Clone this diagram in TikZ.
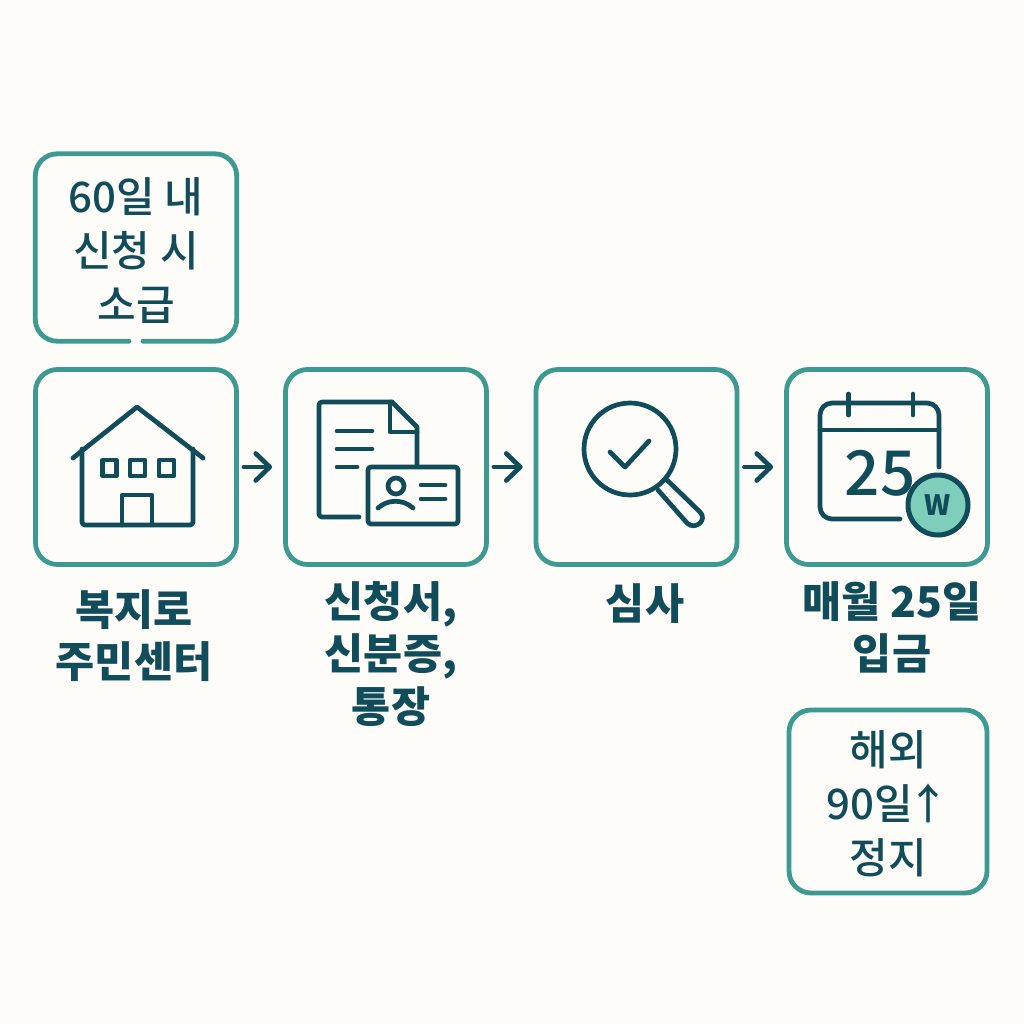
\documentclass[tikz,border=0pt]{standalone}
\usepackage{fontspec}
\usetikzlibrary{arrows.meta}
\setmainfont{Noto Sans CJK KR}
\newfontfamily\krmed{Noto Sans CJK KR Medium}
\newfontfamily\krblack{Noto Sans CJK KR Black}
\definecolor{bgc}{HTML}{FDFCF8}
\definecolor{tealc}{HTML}{3C9A90}
\definecolor{darkc}{HTML}{114C5A}
\definecolor{mintc}{HTML}{7FCDBB}
\tikzset{
  x=1pt,y=-1pt,
  boxline/.style={draw=tealc,line width=4.8pt,rounded corners=22pt,line cap=round},
  stepbox/.style={boxline,minimum width=201pt,minimum height=195pt,inner sep=0pt,anchor=center},
  notebox/.style={align=center,text=darkc,font=\fontsize{42}{54}\krmed\selectfont,inner sep=0pt},
  caption/.style={align=center,text=darkc,font=\fontsize{42.5}{52.5}\krblack\selectfont,inner sep=0pt,anchor=north},
  icon/.style={draw=darkc,line width=4.7pt,line cap=round,line join=round},
  flow/.style={draw=darkc,line width=4.7pt,line cap=round,-{Straight Barb[length=14pt,width=27pt,line width=4.7pt,round]}},
}
\begin{document}
\begin{tikzpicture}
\path[fill=bgc] (0,0) rectangle (1024,1024);
\useasboundingbox (0,0) rectangle (1024,1024);

% boxes
\node[stepbox] (home) at (136,467) {};
\node[stepbox] (docs) at (386,467) {};
\node[stepbox] (check) at (636.5,467) {};
\node[stepbox] (pay) at (887,467) {};
\node[boxline,minimum width=198pt,minimum height=183pt,inner sep=0pt] (stop) at (888,801.5) {};
\node[notebox] (stoptext) at (888,803.5) {해외\\ 90일\kern-5pt↑\\정지};

% top note with a gap in its lower edge
\node[minimum width=201pt,minimum height=187pt,inner sep=0pt] (back) at (136,247.5) {};
\node[notebox] (backtext) at (136,250.5) {60일 내\\신청 시\\소급};
\draw[boxline] ([xshift=-7pt]back.south) -| (back.north west) -| (back.south east) -- ([xshift=7pt]back.south);

% connectors
\draw[flow] ([xshift=5pt]home.east) -- ([xshift=-11pt]docs.west);
\draw[flow] ([xshift=5pt]docs.east) -- ([xshift=-11pt]check.west);
\draw[flow] ([xshift=5pt]check.east) -- ([xshift=-11pt]pay.west);

% captions
\node[caption] (c1) at (134,589) {복지로\\주민센터};
\node[caption] (c2) at (391,581) {신청서,\\신분증,\\통장};
\node[caption] (c3) at (645,583) {심사};
\node[caption] (c4) at (892,581) {매월 25일\\입금};

% house icon
\draw[icon] (73,458) -- (137,407) -- (203,458);
\draw[icon,rounded corners=3pt] (82,449) -- (82,525) -- (193,525) -- (193,449);
\draw[icon] (122,525) -- (122,495) -- (152,495) -- (152,525);
\draw[icon] (102.5,460) rectangle (116.5,476);
\draw[icon] (130,460) rectangle (145,476);
\draw[icon] (159,460) rectangle (174,476);

% document and card icon
\draw[icon,rounded corners=3pt] (359,517) -- (319,517) -- (319,402) -- (392,402);
\draw[icon] (392,402) -- (417,427) -- (417,466);
\draw[icon] (390,402) -- (390,432) -- (417,432);
\draw[icon] (337,431) -- (372,431) (337,449) -- (372,449) (337,467) -- (357,467);
\draw[icon,rounded corners=3pt] (368,467) rectangle (458,524);
\draw[icon] (396,486) circle (8);
\draw[icon] (378,508) .. controls (388,499) and (403,499) .. (413,508);
\draw[icon] (421,485) -- (445,485) (421,499) -- (445,499);

% magnifier icon
\draw[icon] (630,449) circle (46);
\draw[icon] (610,452) -- (625,467) -- (649,441);
\draw[icon] (658,490) -- (687,523) .. controls (695,531) and (708,520) .. (700,512) -- (667,480);

% calendar icon
\draw[icon,rounded corners=12pt] (939,467) -- (939,403) -- (820,403) -- (820,519) -- (900,519);
\draw[icon] (820,430) -- (939,430);
\draw[icon] (848.5,394) -- (848.5,415) (913,394) -- (913,415);
\node[text=darkc,font=\fontsize{62}{62}\krmed\selectfont,inner sep=0pt] (num) at (880,473) {25};
\node[circle,draw=darkc,fill=mintc,line width=5pt,minimum size=60pt,inner sep=0pt,text=darkc,font=\fontsize{28}{28}\krblack\selectfont] (won) at (938,505) {W};
\end{tikzpicture}
\end{document}
